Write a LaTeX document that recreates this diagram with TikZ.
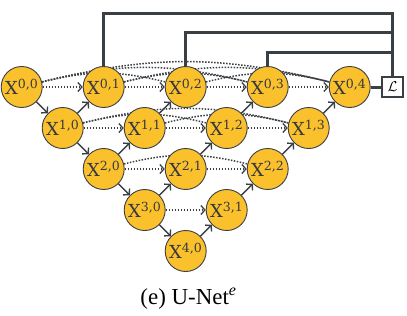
\documentclass[tikz,border=0pt]{standalone}
\usepackage{fontspec}
\setmainfont{DejaVu Serif}
\newfontfamily\capfont{Liberation Serif}
\usetikzlibrary{arrows.meta,backgrounds}
\definecolor{nodefill}{HTML}{FBC12D}
\definecolor{linegray}{HTML}{3A3F44}
\tikzset{
  unode/.style={circle, draw=linegray, line width=0.9bp, fill=nodefill, minimum size=41bp, inner sep=0pt,
    font=\fontsize{18}{20}\selectfont, text=linegray!90!black},
  solidarrow/.style={draw=linegray, line width=1.4bp, -{Straight Barb[length=4bp,width=9bp,line width=1.4bp]}},
  dotarrow/.style={draw=linegray, line width=1.5bp, dash pattern=on 1.5bp off 1.5bp, -{Straight Barb[length=4bp,width=9bp,line width=1.3bp]}},
  dotarc/.style={draw=linegray, line width=1.5bp, dash pattern=on 1.5bp off 1.5bp, bend left=14},
  thickline/.style={draw=linegray, line width=3bp},
  lossbox/.style={draw=linegray, line width=1.2bp, fill=white, minimum width=21bp, minimum height=20bp, inner sep=0pt},
}
\newcommand{\xn}[2]{X\textsuperscript{#1,#2}}
\begin{document}
\begin{tikzpicture}[x=1bp,y=-1bp]
\useasboundingbox (0,0) rectangle (407,316);
% nodes
\foreach \i/\j in {0/0,0/1,0/2,0/3,0/4,1/0,1/1,1/2,1/3,2/0,2/1,2/2,3/0,3/1,4/0}{
  \node[unode] (X\i\j) at ({21.7+41*(\i+2*\j)},{87+41*\i}) {\xn{\i}{\j}};
}
\node[lossbox, font=\fontsize{14}{16}\selectfont] (L) at (392.5,87) {$\mathcal{L}$};
\coordinate (t1) at (392.5,13);
\coordinate (t2) at (392.5,32);
\coordinate (t3) at (392.5,52);
\begin{scope}[on background layer]
% dense skip arcs
\foreach \r/\a/\b in {0/0/2,0/0/3,0/0/4,0/1/3,0/1/4,0/2/4,1/0/2,1/0/3,1/1/3,2/0/2}{
  \draw[dotarc] (X\r\a) to (X\r\b);
}
% straight skip arrows
\foreach \r/\a/\b in {0/0/1,0/1/2,0/2/3,0/3/4,1/0/1,1/1/2,1/2/3,2/0/1,2/1/2,3/0/1}{
  \draw[dotarrow] (X\r\a) -- (X\r\b);
}
% deep supervision
\draw[thickline] (X01.north) |- (t1) -- (L.north);
\draw[thickline] (X02.north) |- (t2);
\draw[thickline] (X03.north) |- (t3);
\draw[thickline] (X04) -- (L);
\end{scope}
% down arrows
\foreach \a/\b in {00/10,10/20,20/30,30/40}{
  \draw[solidarrow] (X\a) -- (X\b);
}
% up arrows
\foreach \a/\b in {10/01,20/11,11/02,30/21,21/12,12/03,40/31,31/22,22/13,13/04}{
  \draw[solidarrow] (X\a) -- (X\b);
}
\node[font=\capfont\fontsize{23}{25}\selectfont, anchor=base] (cap) at (188.5,304) {(e) U-Net\textsuperscript{\itshape e}};
\end{tikzpicture}
\end{document}
